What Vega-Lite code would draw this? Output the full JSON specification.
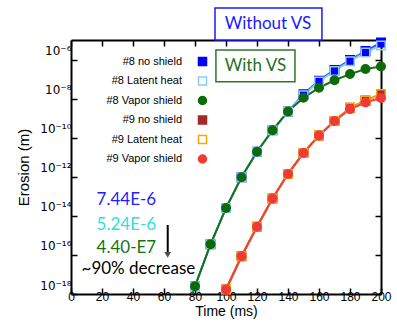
{
  "$schema": "https://vega.github.io/schema/vega-lite/v6.json",
  "width": 310,
  "height": 254,
  "autosize": {"type": "none"},
  "padding": {"left": 71, "top": 40, "right": 16, "bottom": 28},
  "background": "white",
  "config": {
    "view": {"stroke": null},
    "font": "Liberation Sans",
    "axis": {
      "grid": false,
      "domainColor": "black",
      "domainWidth": 2,
      "tickColor": "black",
      "tickWidth": 1.5,
      "tickSize": -6,
      "labelColor": "black",
      "labelFont": "Liberation Sans",
      "titleColor": "black",
      "titleFont": "Liberation Sans",
      "titleFontWeight": "normal"
    },
    "legend": {
      "orient": "none",
      "legendX": 126,
      "legendY": 16,
      "labelAlign": "right",
      "labelOffset": -26,
      "labelFont": "Liberation Sans",
      "labelFontSize": 11,
      "labelFontWeight": "normal",
      "labelColor": "black",
      "symbolSize": 64,
      "symbolStrokeWidth": 1.5,
      "rowPadding": 4.5
    }
  },
  "datasets": {
    "erosion": [
      {"series": "#8 no shield", "time": 80, "erosion": 2.5e-18},
      {"series": "#8 no shield", "time": 90, "erosion": 3.5e-16},
      {"series": "#8 no shield", "time": 100, "erosion": 2.5e-14},
      {"series": "#8 no shield", "time": 110, "erosion": 9.5e-13},
      {"series": "#8 no shield", "time": 120, "erosion": 1.9e-11},
      {"series": "#8 no shield", "time": 130, "erosion": 2.4e-10},
      {"series": "#8 no shield", "time": 140, "erosion": 2.2e-9},
      {"series": "#8 no shield", "time": 150, "erosion": 1.66e-8},
      {"series": "#8 no shield", "time": 160, "erosion": 8.3e-8},
      {"series": "#8 no shield", "time": 170, "erosion": 2.95e-7},
      {"series": "#8 no shield", "time": 180, "erosion": 9.5e-7},
      {"series": "#8 no shield", "time": 190, "erosion": 2.7e-6},
      {"series": "#8 no shield", "time": 200, "erosion": 7.44e-6},
      {"series": "#8 Latent heat", "time": 80, "erosion": 2.5e-18},
      {"series": "#8 Latent heat", "time": 90, "erosion": 3.5e-16},
      {"series": "#8 Latent heat", "time": 100, "erosion": 2.5e-14},
      {"series": "#8 Latent heat", "time": 110, "erosion": 9.5e-13},
      {"series": "#8 Latent heat", "time": 120, "erosion": 1.9e-11},
      {"series": "#8 Latent heat", "time": 130, "erosion": 2.4e-10},
      {"series": "#8 Latent heat", "time": 140, "erosion": 2.2e-9},
      {"series": "#8 Latent heat", "time": 150, "erosion": 1.5e-8},
      {"series": "#8 Latent heat", "time": 160, "erosion": 7.5e-8},
      {"series": "#8 Latent heat", "time": 170, "erosion": 2.6e-7},
      {"series": "#8 Latent heat", "time": 180, "erosion": 8.2e-7},
      {"series": "#8 Latent heat", "time": 190, "erosion": 2.3e-6},
      {"series": "#8 Latent heat", "time": 200, "erosion": 5.24e-6},
      {"series": "#8 Vapor shield", "time": 70, "erosion": 1.6e-20},
      {"series": "#8 Vapor shield", "time": 80, "erosion": 2.5e-18},
      {"series": "#8 Vapor shield", "time": 90, "erosion": 3.5e-16},
      {"series": "#8 Vapor shield", "time": 100, "erosion": 2.5e-14},
      {"series": "#8 Vapor shield", "time": 110, "erosion": 9.5e-13},
      {"series": "#8 Vapor shield", "time": 120, "erosion": 1.9e-11},
      {"series": "#8 Vapor shield", "time": 130, "erosion": 2.4e-10},
      {"series": "#8 Vapor shield", "time": 140, "erosion": 2.2e-9},
      {"series": "#8 Vapor shield", "time": 150, "erosion": 1.1e-8},
      {"series": "#8 Vapor shield", "time": 160, "erosion": 3.6e-8},
      {"series": "#8 Vapor shield", "time": 170, "erosion": 8.7e-8},
      {"series": "#8 Vapor shield", "time": 180, "erosion": 1.8e-7},
      {"series": "#8 Vapor shield", "time": 190, "erosion": 3.3e-7},
      {"series": "#8 Vapor shield", "time": 200, "erosion": 4.4e-7},
      {"series": "#9 no shield", "time": 100, "erosion": 1.7e-18},
      {"series": "#9 no shield", "time": 110, "erosion": 8.5e-17},
      {"series": "#9 no shield", "time": 120, "erosion": 2.75e-15},
      {"series": "#9 no shield", "time": 130, "erosion": 7.8e-14},
      {"series": "#9 no shield", "time": 140, "erosion": 1.4e-12},
      {"series": "#9 no shield", "time": 150, "erosion": 1.66e-11},
      {"series": "#9 no shield", "time": 160, "erosion": 1.3e-10},
      {"series": "#9 no shield", "time": 170, "erosion": 7.2e-10},
      {"series": "#9 no shield", "time": 180, "erosion": 3.4e-9},
      {"series": "#9 no shield", "time": 190, "erosion": 7.9e-9},
      {"series": "#9 no shield", "time": 200, "erosion": 1.7e-8},
      {"series": "#9 Latent heat", "time": 100, "erosion": 1.7e-18},
      {"series": "#9 Latent heat", "time": 110, "erosion": 8.5e-17},
      {"series": "#9 Latent heat", "time": 120, "erosion": 2.75e-15},
      {"series": "#9 Latent heat", "time": 130, "erosion": 7.8e-14},
      {"series": "#9 Latent heat", "time": 140, "erosion": 1.4e-12},
      {"series": "#9 Latent heat", "time": 150, "erosion": 1.66e-11},
      {"series": "#9 Latent heat", "time": 160, "erosion": 1.3e-10},
      {"series": "#9 Latent heat", "time": 170, "erosion": 7.2e-10},
      {"series": "#9 Latent heat", "time": 180, "erosion": 3.4e-9},
      {"series": "#9 Latent heat", "time": 190, "erosion": 7.9e-9},
      {"series": "#9 Latent heat", "time": 200, "erosion": 1.7e-8},
      {"series": "#9 Vapor shield", "time": 90, "erosion": 3.2e-20},
      {"series": "#9 Vapor shield", "time": 100, "erosion": 1.7e-18},
      {"series": "#9 Vapor shield", "time": 110, "erosion": 8.5e-17},
      {"series": "#9 Vapor shield", "time": 120, "erosion": 2.75e-15},
      {"series": "#9 Vapor shield", "time": 130, "erosion": 7.8e-14},
      {"series": "#9 Vapor shield", "time": 140, "erosion": 1.4e-12},
      {"series": "#9 Vapor shield", "time": 150, "erosion": 1.66e-11},
      {"series": "#9 Vapor shield", "time": 160, "erosion": 1.3e-10},
      {"series": "#9 Vapor shield", "time": 170, "erosion": 7.2e-10},
      {"series": "#9 Vapor shield", "time": 180, "erosion": 2.9e-9},
      {"series": "#9 Vapor shield", "time": 190, "erosion": 6.3e-9},
      {"series": "#9 Vapor shield", "time": 200, "erosion": 1.07e-8}
    ],
    "notes": [
      {"note": "7.44E-6", "time": 35.7, "erosion": 6.5e-14},
      {"note": "5.24E-6", "time": 35.7, "erosion": 3.4e-15},
      {"note": "4.40-E7", "time": 35.7, "erosion": 2.2e-16},
      {"note": "~90% decrease", "time": 43.5, "erosion": 1.9e-17}
    ],
    "arrow": [
      {"time": 62.4, "top": 3.4e-15, "bottom": 1.4e-16, "tip": 1.0e-16}
    ],
    "boxes": [
      {"label": "Without VS", "left": 92.9, "right": 161.9, "top": 4.4e-4, "bottom": 1.0e-5, "cx": 127.1, "cy": 6.6e-5},
      {"label": "With VS", "left": 93.5, "right": 144.5, "top": 3.1e-6, "bottom": 7.2e-8, "cx": 119, "cy": 4.7e-7}
    ]
  },
  "layer": [
    {
      "data": {"name": "erosion"},
      "mark": {"type": "line", "strokeWidth": 2, "clip": true},
      "encoding": {
        "x": {
          "field": "time", "type": "quantitative",
          "scale": {"domain": [0, 200], "nice": false, "zero": false},
          "axis": {
            "orient": "bottom", "values": [0, 20, 40, 60, 80, 100, 120, 140, 160, 180, 200],
            "labelFlush": false, "labelFontSize": 12, "labelPadding": 3,
            "title": "Time (ms)", "titleFontSize": 14, "titlePadding": 2
          }
        },
        "y": {
          "field": "erosion", "type": "quantitative",
          "scale": {"type": "log", "domain": [1e-18, 1e-5], "nice": false},
          "axis": {
            "orient": "left", "values": [1e-18, 1e-16, 1e-14, 1e-12, 1e-10, 1e-8, 1e-6],
            "labelExpr": "'10' + replace(replace(replace(replace(replace(replace(replace('' + round(log(datum.value) / LN10), '-', '⁻'), '1', '¹'), '8', '⁸'), '6', '⁶'), '4', '⁴'), '2', '²'), '0', '⁰')",
            "labelFont": "DejaVu Sans",
            "labelFontSize": 12, "labelPadding": 6, "labelFlush": false,
            "labelBaseline": "alphabetic", "labelOffset": -5,
            "title": "Erosion (m)", "titleFontSize": 15, "titlePadding": 8
          }
        },
        "color": {
          "field": "series", "type": "nominal", "legend": null,
          "scale": {
            "domain": ["#8 no shield", "#8 Latent heat", "#8 Vapor shield", "#9 no shield", "#9 Latent heat", "#9 Vapor shield"],
            "range": ["#2f4cff", "#8ccff0", "#137313", "#a52828", "#ffa500", "#f04040"]
          }
        },
        "detail": {"field": "series"},
        "order": {"field": "time", "type": "quantitative"}
      }
    },
    {
      "data": {"name": "erosion"},
      "transform": [{"filter": "datum.erosion >= 1e-18"}],
      "mark": {"type": "point", "size": 72, "strokeWidth": 1.5, "opacity": 1},
      "encoding": {
        "x": {
          "field": "time", "type": "quantitative",
          "scale": {"domain": [0, 200], "nice": false, "zero": false},
          "axis": {
            "orient": "top", "values": [0, 20, 40, 60, 80, 100, 120, 140, 160, 180, 200],
            "labels": false, "title": null
          }
        },
        "y": {
          "field": "erosion", "type": "quantitative",
          "scale": {"type": "log", "domain": [1e-18, 1e-5], "nice": false},
          "axis": {
            "orient": "right", "values": [1e-18, 1e-16, 1e-14, 1e-12, 1e-10, 1e-8, 1e-6],
            "labels": false, "title": null
          }
        },
        "fill": {
          "field": "series", "type": "nominal", "title": null,
          "scale": {
            "domain": ["#8 no shield", "#8 Latent heat", "#8 Vapor shield", "#9 no shield", "#9 Latent heat", "#9 Vapor shield"],
            "range": ["#0000ff", "transparent", "#0b6b0b", "#a52828", "transparent", "#f03a3a"]
          }
        },
        "stroke": {
          "field": "series", "type": "nominal", "title": null,
          "scale": {
            "domain": ["#8 no shield", "#8 Latent heat", "#8 Vapor shield", "#9 no shield", "#9 Latent heat", "#9 Vapor shield"],
            "range": ["#0000ff", "#87cef0", "#0b6b0b", "#a52828", "#ffa500", "#f03a3a"]
          }
        },
        "shape": {
          "field": "series", "type": "nominal", "title": null,
          "scale": {
            "domain": ["#8 no shield", "#8 Latent heat", "#8 Vapor shield", "#9 no shield", "#9 Latent heat", "#9 Vapor shield"],
            "range": ["square", "square", "circle", "square", "square", "circle"]
          }
        }
      }
    },
    {
      "data": {"name": "notes"},
      "mark": {"type": "text", "font": "Lato", "fontSize": 17, "align": "center", "baseline": "middle"},
      "encoding": {
        "x": {"field": "time", "type": "quantitative", "scale": {"domain": [0, 200], "nice": false, "zero": false}, "axis": null},
        "y": {"field": "erosion", "type": "quantitative", "scale": {"type": "log", "domain": [1e-18, 1e-5], "nice": false}, "axis": null},
        "text": {"field": "note"},
        "color": {
          "field": "note", "type": "nominal", "legend": null,
          "scale": {
            "domain": ["7.44E-6", "5.24E-6", "4.40-E7", "~90% decrease"],
            "range": ["#1f1fff", "#33dddd", "#137313", "#000000"]
          }
        }
      }
    },
    {
      "data": {"name": "arrow"},
      "mark": {"type": "rule", "color": "black", "strokeWidth": 2},
      "encoding": {
        "x": {"field": "time", "type": "quantitative", "scale": {"domain": [0, 200], "nice": false, "zero": false}, "axis": null},
        "y": {"field": "top", "type": "quantitative", "scale": {"type": "log", "domain": [1e-18, 1e-5], "nice": false}, "axis": null},
        "y2": {"field": "bottom"}
      }
    },
    {
      "data": {"name": "arrow"},
      "mark": {"type": "point", "shape": "triangle-down", "filled": true, "color": "black", "size": 45},
      "encoding": {
        "x": {"field": "time", "type": "quantitative", "scale": {"domain": [0, 200], "nice": false, "zero": false}, "axis": null},
        "y": {"field": "tip", "type": "quantitative", "scale": {"type": "log", "domain": [1e-18, 1e-5], "nice": false}, "axis": null}
      }
    },
    {
      "data": {"name": "boxes"},
      "transform": [{"filter": "datum.label === 'Without VS'"}],
      "mark": {"type": "rect", "fill": "white", "stroke": "#1a1aff", "strokeWidth": 1.5},
      "encoding": {
        "x": {"field": "left", "type": "quantitative", "scale": {"domain": [0, 200], "nice": false, "zero": false}, "axis": null},
        "x2": {"field": "right"},
        "y": {"field": "top", "type": "quantitative", "scale": {"type": "log", "domain": [1e-18, 1e-5], "nice": false}, "axis": null},
        "y2": {"field": "bottom"}
      }
    },
    {
      "data": {"name": "boxes"},
      "transform": [{"filter": "datum.label === 'With VS'"}],
      "mark": {"type": "rect", "fill": "white", "stroke": "#2a7a2a", "strokeWidth": 1.5},
      "encoding": {
        "x": {"field": "left", "type": "quantitative", "scale": {"domain": [0, 200], "nice": false, "zero": false}, "axis": null},
        "x2": {"field": "right"},
        "y": {"field": "top", "type": "quantitative", "scale": {"type": "log", "domain": [1e-18, 1e-5], "nice": false}, "axis": null},
        "y2": {"field": "bottom"}
      }
    },
    {
      "data": {"name": "boxes"},
      "mark": {"type": "text", "font": "Lato", "fontSize": 17, "align": "center", "baseline": "middle"},
      "encoding": {
        "x": {"field": "cx", "type": "quantitative", "scale": {"domain": [0, 200], "nice": false, "zero": false}, "axis": null},
        "y": {"field": "cy", "type": "quantitative", "scale": {"type": "log", "domain": [1e-18, 1e-5], "nice": false}, "axis": null},
        "text": {"field": "label"},
        "color": {
          "field": "label", "type": "nominal", "legend": null,
          "scale": {"domain": ["Without VS", "With VS"], "range": ["#1a1aff", "#1f701f"]}
        }
      }
    }
  ],
  "resolve": {
    "axis": {"x": "independent", "y": "independent"},
    "scale": {"color": "independent"}
  }
}
